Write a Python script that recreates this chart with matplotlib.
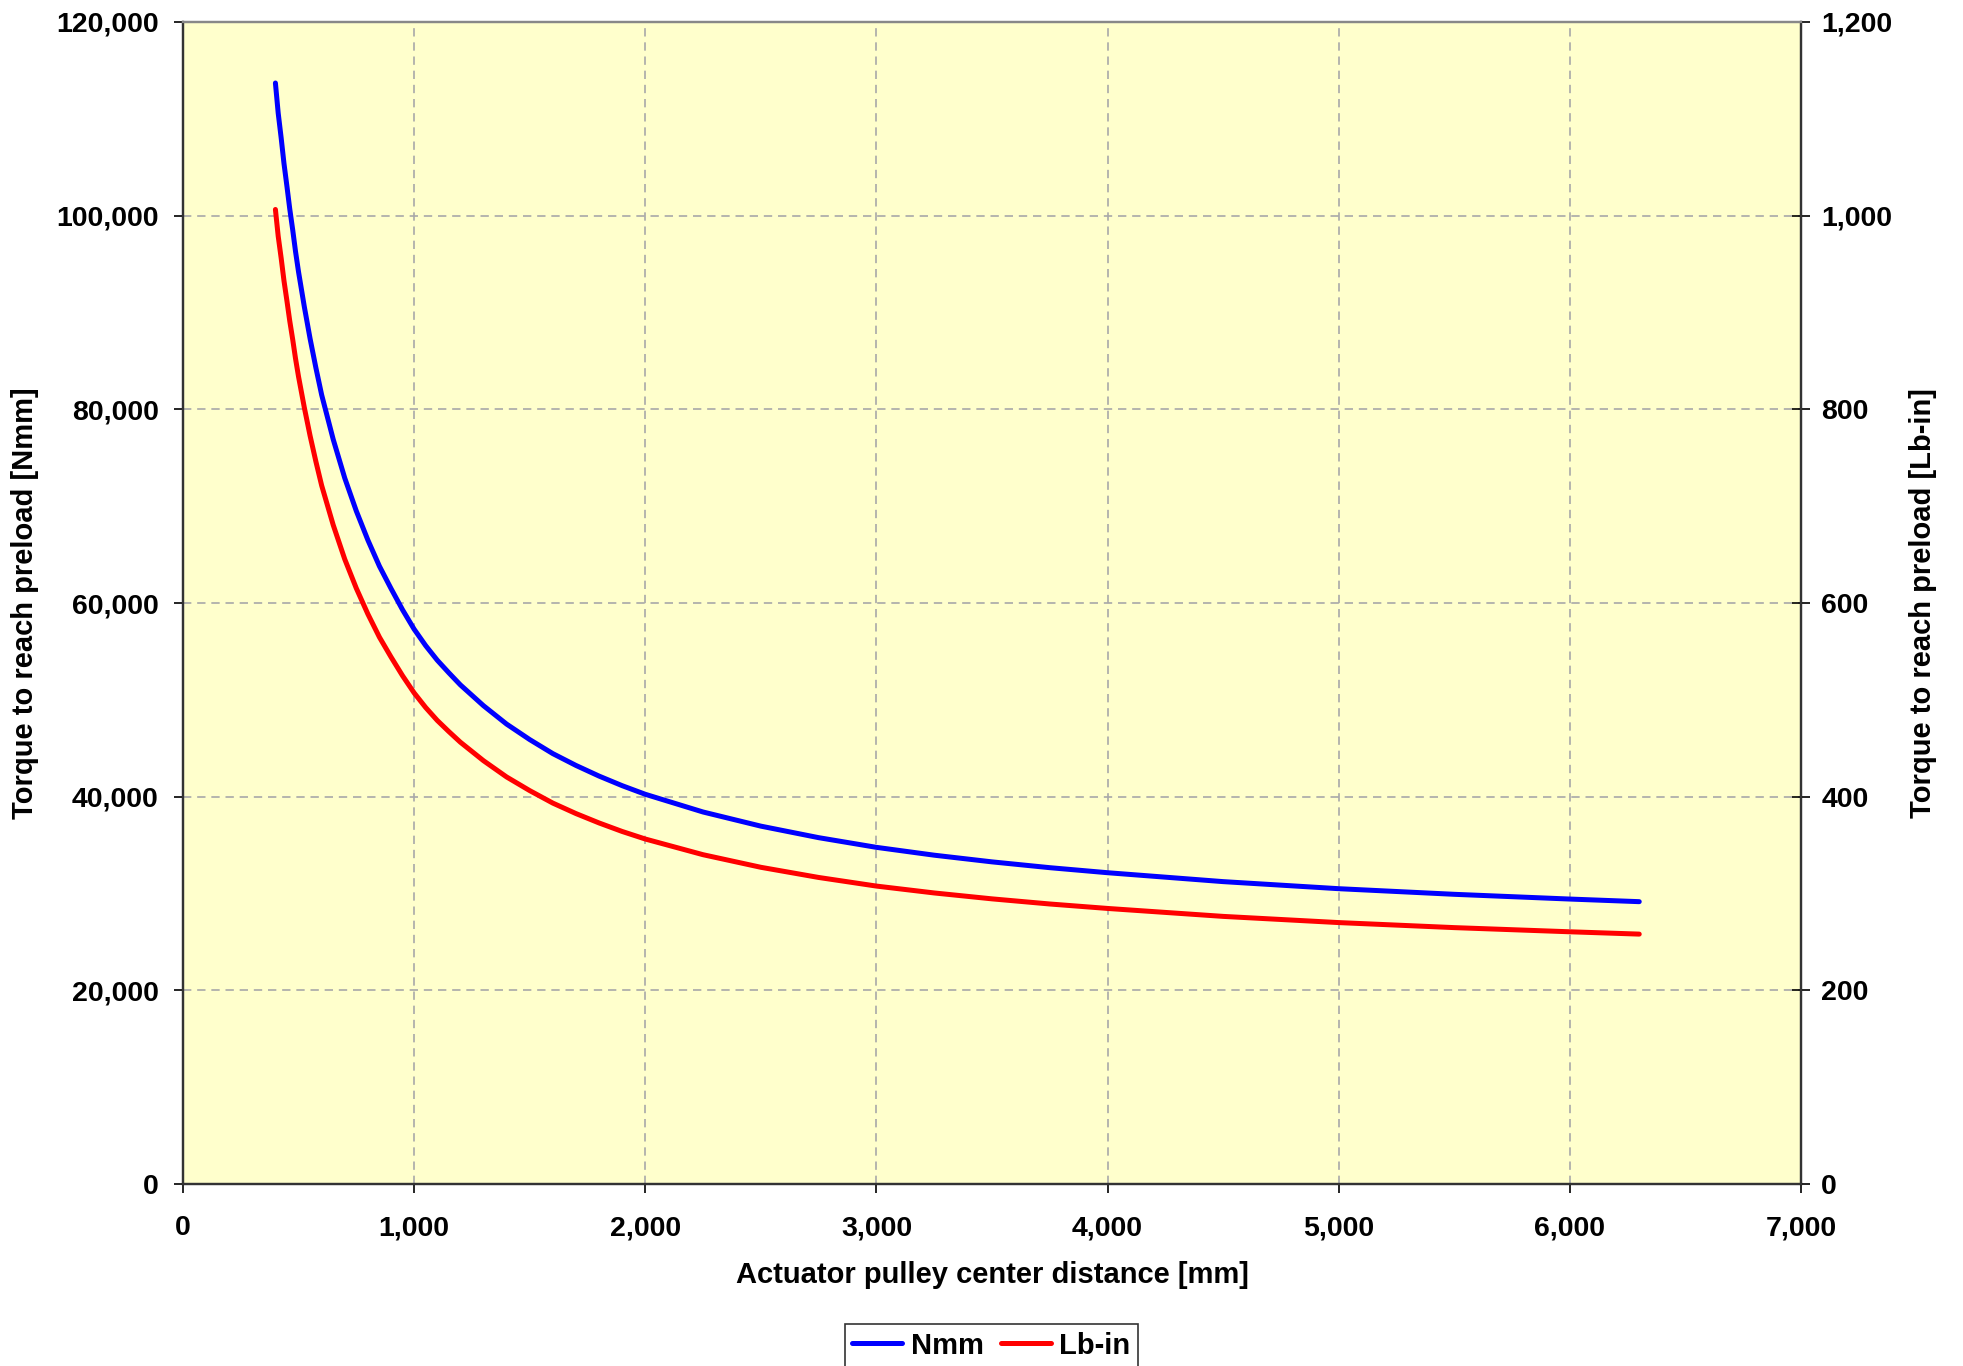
import matplotlib
matplotlib.use("Agg")
import matplotlib.pyplot as plt
from matplotlib.ticker import FuncFormatter, MultipleLocator

plt.rcParams['font.family'] = ['Liberation Sans', 'DejaVu Sans']
plt.rcParams['font.weight'] = 'bold'

# Data
distance_mm = [400, 412, 425, 437, 450, 462, 475, 487, 500, 525, 550, 575, 600, 625, 650,
               675, 700, 750, 800, 850, 900, 950, 1000, 1050, 1100, 1150, 1200, 1300,
               1400, 1500, 1600, 1700, 1800, 1900, 2000, 2250, 2500, 2750, 3000, 3250,
               3500, 3750, 4000, 4500, 5000, 5500, 6000, 6300]
torque_nmm = [113700, 110600, 108000, 105400, 103000, 100700, 98500, 96300, 94200, 90600,
              87300, 84300, 81500, 79200, 76900, 74900, 72900, 69500, 66500, 63800,
              61500, 59300, 57300, 55600, 54100, 52800, 51550, 49400, 47500, 45900,
              44450, 43230, 42130, 41140, 40250, 38420, 36960, 35770, 34770, 33960,
              33270, 32670, 32150, 31230, 30500, 29920, 29430, 29160]
torque_lbin = [1006.4, 978.9, 955.9, 932.9, 911.7, 891.3, 871.8, 852.4, 833.8, 801.9,
               772.7, 746.2, 721.4, 701.0, 680.6, 662.9, 645.2, 615.2, 588.6, 564.7,
               544.3, 524.9, 507.2, 492.1, 478.8, 467.3, 456.3, 437.2, 420.4, 406.3,
               393.4, 382.6, 372.9, 364.1, 356.3, 340.1, 327.1, 316.6, 307.7, 300.6,
               294.5, 289.2, 284.6, 276.4, 270.0, 264.8, 260.5, 258.1]

series_names = ["Nmm", "Lb-in"]
x_label = "Actuator pulley center distance [mm]"
y_label_left = "Torque to reach preload [Nmm]"
y_label_right = "Torque to reach preload [Lb-in]"

fig = plt.figure(figsize=(19.63, 13.66), dpi=100)
ax = fig.add_axes([0.0932, 0.1332, 0.9175 - 0.0932, 0.9839 - 0.1332])
ax.set_facecolor('#FFFFCC')
ax2 = ax.twinx()

l1, = ax.plot(distance_mm, torque_nmm, color='#0000FF', lw=3.6,
              solid_capstyle='round', solid_joinstyle='round',
              label=series_names[0], zorder=3)
l2, = ax2.plot(distance_mm, torque_lbin, color='#FF0000', lw=3.6,
               solid_capstyle='round', solid_joinstyle='round',
               label=series_names[1], zorder=3)

ax.set_xlim(0, 7000)
ax.set_ylim(0, 120000)
ax2.set_ylim(0, 1200)
ax.xaxis.set_major_locator(MultipleLocator(1000))
ax.yaxis.set_major_locator(MultipleLocator(20000))
ax2.yaxis.set_major_locator(MultipleLocator(200))

fmt = FuncFormatter(lambda v, p: f"{v:,.0f}")
ax.xaxis.set_major_formatter(fmt)
ax.yaxis.set_major_formatter(fmt)
ax2.yaxis.set_major_formatter(fmt)

ax.grid(True, color='#A8A8A8', lw=1.2, linestyle=(0, (5, 3.5)))
ax.set_axisbelow(True)

ax.tick_params(axis='y', direction='out', length=6.5, width=1.2, pad=11,
               labelsize=20.5, colors='black')
ax.tick_params(axis='x', direction='out', length=6.5, width=1.2, pad=16,
               labelsize=20.5, colors='black')
ax2.tick_params(axis='y', direction='inout', length=13, width=1.2, pad=8,
                labelsize=20.5, colors='black')
for lab in ax.get_xticklabels() + ax.get_yticklabels() + ax2.get_yticklabels():
    lab.set_fontweight('bold')

for a in (ax, ax2):
    for s in ('left', 'bottom', 'right'):
        a.spines[s].set_color('#333333')
        a.spines[s].set_linewidth(1.6)
    a.spines['top'].set_color('#888888')
    a.spines['top'].set_linewidth(1.6)

ax.set_xlabel(x_label, fontsize=21, fontweight='bold', labelpad=14)
ax.set_ylabel(y_label_left, fontsize=21, fontweight='bold', labelpad=12)
ax2.set_ylabel(y_label_right, fontsize=21, fontweight='bold', labelpad=12)

leg = fig.legend(handles=[l1, l2], labels=series_names, loc='upper center',
                 bbox_to_anchor=(0.505, 0.0305), ncol=2, frameon=True,
                 fancybox=False, edgecolor='black', borderaxespad=0,
                 handlelength=1.7, handletextpad=0.3, columnspacing=0.6,
                 borderpad=0.25, prop={'weight': 'bold', 'size': 21})
leg.get_frame().set_linewidth(1.2)

fig.savefig('out.png', dpi=100)
